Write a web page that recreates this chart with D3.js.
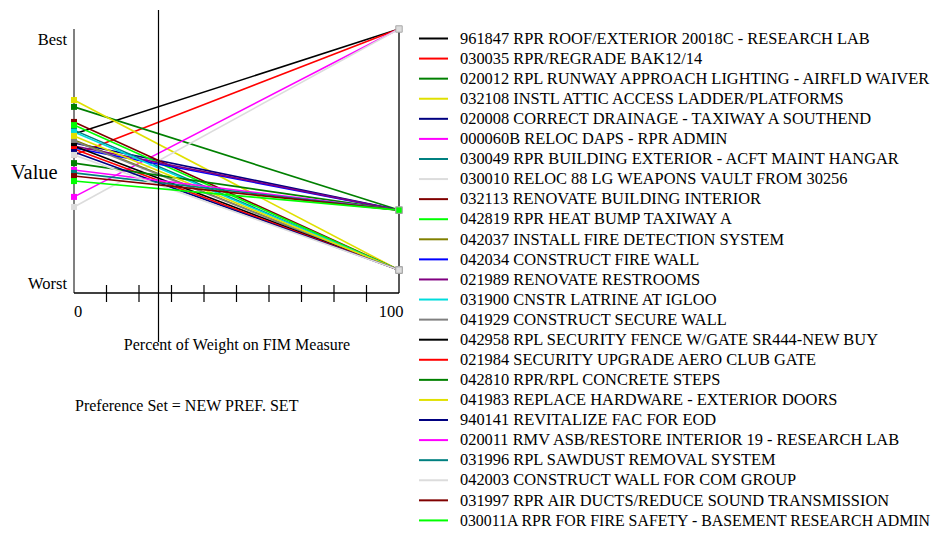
<!DOCTYPE html>
<html>
<head>
<meta charset="utf-8">
<script src="https://cdn.jsdelivr.net/npm/d3@7"></script>
<style>
  html, body { margin: 0; padding: 0; background: #fff; }
  svg { display: block; font-family: "Liberation Serif", "Times New Roman", serif; }
</style>
</head>
<body>
<svg id="chart" width="940" height="535"></svg>
<script>
// Alternatives (legend order)
const projects = [
  "961847 RPR ROOF/EXTERIOR 20018C - RESEARCH LAB",
  "030035 RPR/REGRADE BAK12/14",
  "020012 RPL RUNWAY APPROACH LIGHTING - AIRFLD WAIVER",
  "032108 INSTL ATTIC ACCESS LADDER/PLATFORMS",
  "020008 CORRECT DRAINAGE - TAXIWAY A SOUTHEND",
  "000060B RELOC DAPS - RPR ADMIN",
  "030049 RPR BUILDING EXTERIOR - ACFT MAINT HANGAR",
  "030010 RELOC 88 LG WEAPONS VAULT FROM 30256",
  "032113 RENOVATE BUILDING INTERIOR",
  "042819 RPR HEAT BUMP TAXIWAY A",
  "042037 INSTALL FIRE DETECTION SYSTEM",
  "042034 CONSTRUCT FIRE WALL",
  "021989 RENOVATE RESTROOMS",
  "031900 CNSTR LATRINE AT IGLOO",
  "041929 CONSTRUCT SECURE WALL",
  "042958 RPL SECURITY FENCE W/GATE SR444-NEW BUY",
  "021984 SECURITY UPGRADE AERO CLUB GATE",
  "042810 RPR/RPL CONCRETE STEPS",
  "041983 REPLACE HARDWARE - EXTERIOR DOORS",
  "940141 REVITALIZE FAC FOR EOD",
  "020011 RMV ASB/RESTORE INTERIOR 19 - RESEARCH LAB",
  "031996 RPL SAWDUST REMOVAL SYSTEM",
  "042003 CONSTRUCT WALL FOR COM GROUP",
  "031997 RPR AIR DUCTS/REDUCE SOUND TRANSMISSION",
  "030011A RPR FOR FIRE SAFETY - BASEMENT RESEARCH ADMIN"
];

// Overall value with 0% weight on the FIM measure
const valueAtZero = [
  0.602, 0.523, 0.705, 0.731, 0.568, 0.364, 0.617, 0.326, 0.648, 0.636,
  0.580, 0.549, 0.557, 0.610, 0.576, 0.557, 0.545, 0.492, 0.595, 0.534,
  0.466, 0.455, 0.523, 0.443, 0.424
];

// Overall value with 100% weight on the FIM measure (FIM score)
const valueAtHundred = [
  1.000, 1.000, 0.314, 0.087, 0.314, 1.000, 0.087, 1.000, 0.087, 0.087,
  0.087, 0.314, 0.314, 0.087, 0.087, 0.087, 0.087, 0.314, 0.087, 0.087,
  0.314, 0.314, 0.087, 0.314, 0.314
];

const seriesColors = [
  "#000000", "#ff0000", "#008000", "#e0e000", "#000080",
  "#ff00ff", "#008080", "#dcdcdc", "#800000", "#00ff00",
  "#808000", "#0000ff", "#800080", "#00dcdc", "#808080",
  "#000000", "#ff0000", "#008000", "#e0e000", "#000080",
  "#ff00ff", "#008080", "#dcdcdc", "#800000", "#00ff00"
];

const xTicks = [0, 10, 20, 30, 40, 50, 60, 70, 80, 90, 100];
const xTickLabels = ["0", "100"];
const currentWeight = 26;
const yLabels = ["Best", "Worst"];
const xTitle = "Percent of Weight on FIM Measure";
const prefSet = "Preference Set = NEW PREF. SET";

const svg = d3.select("#chart");

const x = d3.scaleLinear().domain([0, 100]).range([74, 399]);
const y = d3.scaleLinear().domain([0, 1]).range([293, 29]);

// Left (value) axis
svg.append("line")
  .attr("x1", x(0)).attr("x2", x(0))
  .attr("y1", y(1)).attr("y2", y(0))
  .attr("stroke", "#808080").attr("stroke-width", 2);

// Right axis at 100%
svg.append("line")
  .attr("x1", x(100)).attr("x2", x(100))
  .attr("y1", y(1)).attr("y2", y(0))
  .attr("stroke", "#000").attr("stroke-width", 1.3);

// Bottom axis with ticks crossing the line
const xAxisG = svg.append("g");
xAxisG.append("line")
  .attr("x1", x(0)).attr("x2", x(100))
  .attr("y1", y(0)).attr("y2", y(0))
  .attr("stroke", "#000").attr("stroke-width", 1.3);
xAxisG.selectAll("line.tick")
  .data(xTicks.filter(t => t > 0 && t < 100))
  .enter().append("line")
  .attr("class", "tick")
  .attr("x1", d => x(d)).attr("x2", d => x(d))
  .attr("y1", y(0) - 8).attr("y2", y(0) + 9)
  .attr("stroke", "#000").attr("stroke-width", 1.2);

xAxisG.append("text")
  .attr("x", x(0) + 4).attr("y", 317)
  .attr("text-anchor", "middle")
  .attr("font-size", 16.5).text(xTickLabels[0]);
xAxisG.append("text")
  .attr("x", x(100) - 8).attr("y", 317)
  .attr("text-anchor", "middle")
  .attr("font-size", 16.5).text(xTickLabels[1]);

// Value axis labels
svg.append("text").attr("x", 67).attr("y", 45)
  .attr("text-anchor", "end").attr("font-size", 16.5).text(yLabels[0]);
svg.append("text").attr("x", 67).attr("y", 289)
  .attr("text-anchor", "end").attr("font-size", 16.5).text(yLabels[1]);
svg.append("text").attr("x", 11).attr("y", 179)
  .attr("font-size", 20.5).text("Value");

// Titles
svg.append("text").attr("x", 237).attr("y", 350)
  .attr("text-anchor", "middle").attr("font-size", 16).text(xTitle);
svg.append("text").attr("x", 75).attr("y", 411)
  .attr("font-size", 16).text(prefSet);

// Sensitivity lines
const rows = projects.map((name, i) => ({
  name, i, v0: valueAtZero[i], v1: valueAtHundred[i], color: seriesColors[i]
}));

const plot = svg.append("g");
plot.selectAll("line.series")
  .data(rows)
  .enter().append("line")
  .attr("class", "series")
  .attr("x1", x(0)).attr("y1", d => y(d.v0))
  .attr("x2", x(100)).attr("y2", d => y(d.v1))
  .attr("stroke", d => d.color)
  .attr("stroke-width", 1.6);

// End markers
plot.selectAll("rect.m0")
  .data(rows)
  .enter().append("rect")
  .attr("class", "m0")
  .attr("x", x(0) - 3).attr("y", d => y(d.v0) - 3)
  .attr("width", 6).attr("height", 6)
  .attr("fill", d => d.color);
plot.selectAll("rect.m1")
  .data(rows)
  .enter().append("rect")
  .attr("class", "m1")
  .attr("x", x(100) - 3).attr("y", d => y(d.v1) - 3)
  .attr("width", 6).attr("height", 6)
  .attr("fill", d => d.color)
  .attr("stroke", "#aaa").attr("stroke-width", 0.6);

// Current weight marker line
svg.append("line")
  .attr("x1", x(currentWeight)).attr("x2", x(currentWeight))
  .attr("y1", 10).attr("y2", 342)
  .attr("stroke", "#000").attr("stroke-width", 1.2);

// Legend
const legendX = 460;
const legendFont = 16.4;
const legendMaxWidth = 930 - legendX;
const legend = svg.append("g");
const lg = legend.selectAll("g")
  .data(rows)
  .enter().append("g")
  .attr("transform", d => `translate(0, ${38.5 + d.i * 20.08})`);
lg.append("line")
  .attr("x1", 419).attr("x2", 448)
  .attr("y1", 0).attr("y2", 0)
  .attr("stroke", d => d.color).attr("stroke-width", 2);
lg.append("text")
  .attr("x", legendX).attr("y", 5.2)
  .attr("font-size", legendFont)
  .text(d => d.name)
  .each(function () {
    // shrink long names so they stay inside the drawing
    const w = this.getComputedTextLength();
    if (w > legendMaxWidth) {
      d3.select(this).attr("font-size", (legendFont * legendMaxWidth / w).toFixed(2));
    }
  });
</script>
</body>
</html>
